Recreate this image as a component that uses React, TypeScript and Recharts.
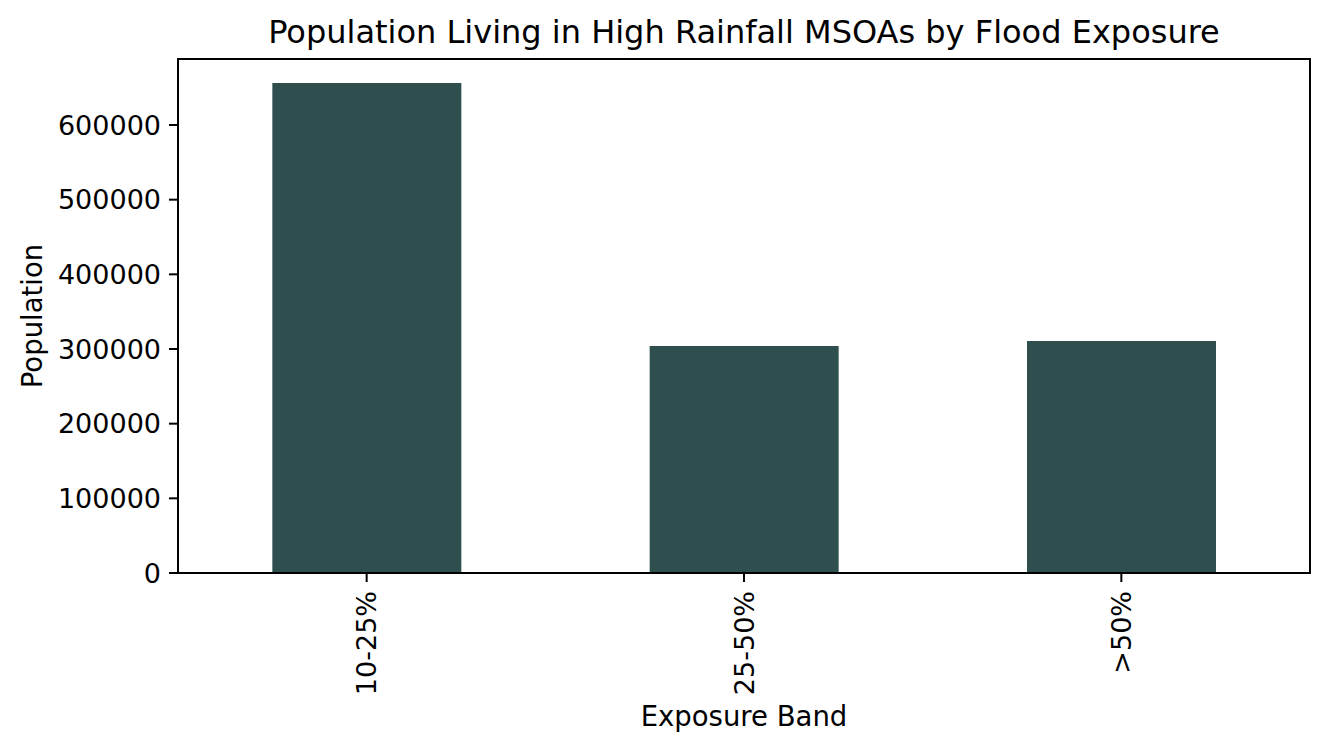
import React from 'react';
import { BarChart, Bar, XAxis, YAxis, Customized } from 'recharts';

const categories = ['10-25%', '25-50%', '>50%'];
const populationValues = [656200, 304000, 310700];
const yTicks = [0, 100000, 200000, 300000, 400000, 500000, 600000];
const yMax = 688400;

const data = categories.map((band, i) => ({ band, population: populationValues[i] }));

const FONT = '"DejaVu Sans", sans-serif';

const XTick = (props: any) => {
  const { x, y, payload } = props;
  const ay = y + 7;
  return (
    <text
      x={x}
      y={ay}
      transform={`rotate(-90, ${x}, ${ay})`}
      textAnchor="end"
      dominantBaseline="central"
      fontSize={27}
      fontFamily={FONT}
      fill="#000"
    >
      {payload.value}
    </text>
  );
};

const Texts = () => (
  <g fontFamily={FONT} fill="#000">
    <rect x={178} y={59} width={1132} height={514} fill="none" stroke="#000" strokeWidth={2} />
    <text x={744} y={43} textAnchor="middle" fontSize={32}>
      Population Living in High Rainfall MSOAs by Flood Exposure
    </text>
    <text x={744} y={726} textAnchor="middle" fontSize={27.5}>
      Exposure Band
    </text>
    <text x={42} y={316} textAnchor="middle" fontSize={27.5} transform="rotate(-90, 42, 316)">
      Population
    </text>
  </g>
);

export default function App() {
  return (
    <div style={{ position: 'absolute', left: 0, top: 0, width: 1329, height: 753, background: '#fff' }}>
      <BarChart
        width={1329}
        height={753}
        data={data}
        margin={{ top: 59, right: 19, left: 0, bottom: 50 }}
        barCategoryGap="25%"
        style={{ fontFamily: FONT }}
      >
        <XAxis
          dataKey="band"
          height={130}
          interval={0}
          tick={<XTick />}
          tickSize={9}
          tickLine={{ stroke: '#000', strokeWidth: 2 }}
          axisLine={{ stroke: '#000', strokeWidth: 2 }}
        />
        <YAxis
          width={178}
          domain={[0, yMax]}
          ticks={yTicks}
          interval={0}
          allowDataOverflow
          tickSize={9}
          tickMargin={8}
          tick={{ fontSize: 27, fill: '#000', fontFamily: FONT }}
          tickLine={{ stroke: '#000', strokeWidth: 2 }}
          axisLine={{ stroke: '#000', strokeWidth: 2 }}
        />
        <Bar dataKey="population" fill="#2f4f4f" isAnimationActive={false} />
        <Customized component={Texts} />
      </BarChart>
    </div>
  );
}
